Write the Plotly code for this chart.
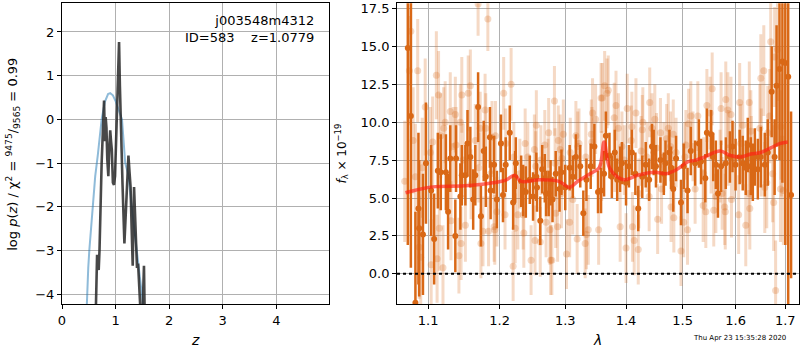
import plotly.graph_objects as go

# ---------------- left panel: redshift PDF ----------------
z_logp = [0.62, 0.63, 0.655, 0.67, 0.685, 0.70, 0.74, 0.785, 0.80, 0.815, 0.83, 0.845, 0.865, 0.885,
          0.90, 0.915, 0.93, 0.95, 0.97, 0.99, 1.02, 1.045, 1.065, 1.08, 1.10, 1.13, 1.165, 1.20,
          1.24, 1.26, 1.28, 1.30, 1.32, 1.345, 1.36, 1.38, 1.40, 1.42, 1.45, 1.49, 1.53, 1.545]
logp = [-5.0, -4.3, -3.1, -3.3, -3.45, -3.0, -1.0, 0.43, -0.5, 0.05, -0.2, -0.9, -1.3, -0.6,
        -0.25, -0.5, -0.7, -1.45, -1.5, -1.3, 0.2, 0.9, 1.77, 0.8, -0.25, -1.5, -2.84, -1.8,
        -0.83, -1.2, -1.55, -2.5, -3.35, -1.55, -2.2, -2.5, -3.4, -3.3, -4.3, -5.0, -3.35, -4.6]

z_chi = [0.44, 0.46, 0.49, 0.51, 0.55, 0.585, 0.62, 0.67, 0.74, 0.80, 0.86, 0.90, 0.95, 1.00,
         1.05, 1.12, 1.18, 1.24, 1.30, 1.36, 1.40, 1.46, 1.51, 1.54]
chi_curve = [-5.0, -4.25, -3.4, -3.0, -2.4, -2.0, -1.3, -0.8, 0.0, 0.4, 0.58, 0.6, 0.55, 0.42,
             0.25, 0.0, -1.0, -1.28, -2.0, -2.6, -3.0, -3.7, -4.2, -4.8]

# ---------------- right panel: spectrum ----------------
wave_dark = [1.073, 1.077, 1.083, 1.087, 1.088, 1.093, 1.097, 1.104, 1.108, 1.113, 1.117, 1.124,
             1.127, 1.130, 1.137, 1.138, 1.144, 1.146, 1.151, 1.154, 1.158, 1.162, 1.165, 1.169,
             1.173, 1.177, 1.180, 1.186, 1.187, 1.192, 1.196, 1.202, 1.205, 1.209, 1.215, 1.220,
             1.223, 1.224, 1.232, 1.235, 1.239, 1.245, 1.250, 1.255, 1.256, 1.261, 1.264, 1.268,
             1.270, 1.274, 1.277, 1.280, 1.285, 1.291, 1.294, 1.300, 1.307, 1.312, 1.317, 1.324,
             1.329, 1.334, 1.341, 1.347, 1.353, 1.358, 1.363, 1.366, 1.372, 1.376, 1.381, 1.385,
             1.390, 1.393, 1.400, 1.405, 1.410, 1.416, 1.421, 1.428, 1.434, 1.440, 1.445, 1.448,
             1.452, 1.460, 1.466, 1.469, 1.476, 1.479, 1.483, 1.488, 1.497, 1.502, 1.509, 1.515,
             1.523, 1.530, 1.534, 1.542, 1.545, 1.553, 1.557, 1.562, 1.566, 1.572, 1.581, 1.589,
             1.594, 1.600, 1.608, 1.614, 1.620, 1.624, 1.630, 1.634, 1.638, 1.644, 1.650, 1.658,
             1.664, 1.672, 1.678, 1.682, 1.688, 1.694, 1.700, 1.706, 1.712]
flux_dark = [14.9, 10.4, -1.9, 4.3, 3.0, 2.6, 7.3, 5.5, 2.3, 6.8, 6.7, 6.7,
             4.1, 7.6, 2.5, 7.6, 5.1, 6.5, 6.5, 8.6, 7.7, 4.9, 6.5, 11.0,
             3.8, 8.1, 6.4, 9.0, 5.5, 7.2, 4.9, 8.6, 5.2, 7.2, 9.3, 4.7,
             6.4, 7.3, 6.1, 5.5, 5.4, 6.2, 5.1, 6.4, 5.7, 3.5, 6.9, 6.3,
             5.3, 5.3, 6.0, 4.9, 6.6, 5.6, 6.7, 5.7, 7.0, 6.4, 7.7, 7.1,
             4.0, 6.2, 7.1, 8.4, 5.4, 5.5, 6.6, 9.1, 7.8, 6.4, 8.0, 6.2,
             6.9, 7.3, 6.0, 7.1, 8.0, 6.6, 4.3, 6.4, 7.2, 6.2, 8.4, 8.0,
             7.1, 7.5, 6.6, 7.3, 8.0, 7.0, 5.6, 7.6, 4.7, 7.1, 5.5, 8.1,
             7.3, 8.6, 7.4, 6.3, 9.3, 9.2, 7.7, 7.2, 5.3, 7.1, 7.3, 7.7,
             8.4, 7.2, 7.7, 7.3, 7.0, 8.5, 7.1, 6.7, 7.7, 6.9, 7.7, 7.2,
             8.0, 12.0, 7.7, 12.4, 13.5, 14.0, 13.9, 13.0, 5.2]
err_dark = [13.0, 10.0, 6.0, 5.0, 4.5, 4.0, 4.0, 3.0, 3.0, 2.5, 2.5, 2.5,
            2.5, 2.2, 2.4, 2.2, 2.2, 2.0, 2.0, 2.2, 2.0, 2.0, 2.0, 2.3,
            2.0, 2.0, 2.0, 2.0, 1.9, 1.9, 1.9, 1.9, 1.8, 1.8, 1.8, 1.8,
            1.7, 1.7, 1.7, 1.7, 1.7, 1.6, 1.6, 1.6, 1.6, 1.6, 1.6, 1.6,
            1.5, 1.5, 1.5, 1.5, 1.5, 1.5, 1.5, 1.5, 1.5, 1.4, 1.5, 1.4,
            1.5, 1.4, 1.5, 1.5, 1.4, 1.5, 1.5, 1.6, 1.5, 1.4, 1.5, 1.4,
            1.5, 1.4, 1.5, 1.4, 1.5, 1.4, 1.5, 1.4, 1.5, 1.4, 1.5, 1.5,
            1.4, 1.5, 1.4, 1.5, 1.5, 1.4, 1.5, 1.5, 1.5, 1.5, 1.5, 1.6,
            1.5, 1.6, 1.5, 1.6, 1.6, 1.6, 1.6, 1.6, 1.6, 1.7, 1.7, 1.7,
            1.7, 1.7, 1.8, 1.8, 1.8, 1.8, 1.9, 1.9, 1.9, 2.0, 2.0, 2.1,
            2.2, 3.0, 2.5, 4.0, 6.0, 8.0, 12.0, 15.0, 5.5]

wave_light = [1.069, 1.075, 1.077, 1.080, 1.083, 1.086, 1.088, 1.090, 1.092, 1.096, 1.103, 1.104,
              1.106, 1.111, 1.112, 1.114, 1.115, 1.117, 1.120, 1.121, 1.123, 1.130, 1.131, 1.134,
              1.137, 1.138, 1.142, 1.144, 1.145, 1.146, 1.148, 1.151, 1.155, 1.158, 1.159, 1.165,
              1.169, 1.170, 1.172, 1.173, 1.176, 1.179, 1.180, 1.183, 1.184, 1.187, 1.189, 1.192,
              1.193, 1.194, 1.196, 1.206, 1.208, 1.209, 1.217, 1.220, 1.221, 1.223, 1.227, 1.230,
              1.235, 1.236, 1.238, 1.242, 1.247, 1.252, 1.253, 1.254, 1.255, 1.261, 1.262, 1.268,
              1.270, 1.273, 1.274, 1.276, 1.277, 1.279, 1.283, 1.284, 1.285, 1.288, 1.289, 1.292,
              1.294, 1.295, 1.297, 1.302, 1.307, 1.308, 1.312, 1.317, 1.319, 1.320, 1.322, 1.332,
              1.333, 1.334, 1.337, 1.342, 1.343, 1.344, 1.349, 1.354, 1.358, 1.359, 1.360, 1.364,
              1.368, 1.370, 1.380, 1.381, 1.383, 1.387, 1.390, 1.393, 1.397, 1.400, 1.402, 1.409,
              1.410, 1.411, 1.414, 1.417, 1.421, 1.422, 1.426, 1.428, 1.429, 1.436, 1.440, 1.441,
              1.445, 1.450, 1.453, 1.455, 1.460, 1.462, 1.466, 1.471, 1.474, 1.478, 1.479, 1.483,
              1.484, 1.488, 1.497, 1.502, 1.504, 1.506, 1.509, 1.511, 1.515, 1.519, 1.523, 1.528,
              1.538, 1.539, 1.543, 1.545, 1.551, 1.553, 1.555, 1.558, 1.562, 1.570, 1.572, 1.574,
              1.579, 1.580, 1.581, 1.585, 1.586, 1.591, 1.592, 1.598, 1.606, 1.608, 1.610, 1.614,
              1.620, 1.626, 1.627, 1.628, 1.630, 1.631, 1.648, 1.650, 1.651, 1.656, 1.658, 1.662,
              1.664, 1.668, 1.670, 1.674, 1.676, 1.678, 1.680, 1.684, 1.690, 1.691, 1.692, 1.696]
flux_light = [6.1, 13.4, 16.0, 8.8, 6.4, 13.4, 1.75, 1.1, 7.0, 11.0, 8.0, 0.6,
              8.7, 13.1, 1.0, 11.8, 3.0, 9.1, 0.4, 9.6, 10.0, 10.7, 3.5, 8.4,
              10.5, 8.5, 1.2, 10.0, 2.0, 11.8, 7.5, 3.2, 11.9, 12.4, 5.9, 8.8,
              17.8, 7.0, 9.6, 2.0, 2.8, 10.8, 9.6, 16.8, 2.8, 6.6, 9.0, 3.1,
              2.9, 9.1, 4.1, 11.9, 3.9, 8.6, 12.5, 0.5, 7.7, 3.0, 3.9, 6.6,
              3.9, 2.7, 8.6, 7.7, 0.9, 8.2, 2.2, 7.1, 9.8, 2.1, 7.5, 8.5,
              3.4, 6.6, 9.3, 2.9, 0.9, 0.9, 11.4, 7.3, 4.0, 3.1, 8.8, 8.2,
              5.3, 7.6, 9.2, 1.3, 3.4, 8.0, 4.9, 9.1, 2.3, 8.4, 8.6, 2.0,
              7.7, 2.6, 2.9, 9.2, 8.7, 10.6, 10.2, 2.9, 11.6, 7.1, 11.6, 12.4,
              11.9, 12.1, 10.3, 7.7, 11.1, 9.6, 3.1, 8.4, 7.5, 1.7, 10.9, 8.8,
              9.7, 3.1, 2.2, 10.6, 1.6, 5.3, 8.1, 9.5, 10.0, 7.7, 5.1, 11.3,
              9.6, 10.2, 8.3, 3.6, 9.3, 5.6, 7.7, 8.9, 9.6, 8.4, 4.4, 9.2,
              3.7, 8.0, 1.5, 3.4, 7.7, 8.5, 2.9, 9.9, 10.4, 8.4, 5.6, 10.4,
              4.5, 6.6, 4.1, 11.1, 10.6, 7.7, 12.2, 4.2, 5.1, 7.1, 10.9, 5.3,
              4.4, 4.1, 11.5, 10.8, 8.3, 10.5, 4.9, 7.5, 3.9, 11.3, 8.6, 9.8,
              3.2, 5.3, 11.3, 4.3, 9.4, 7.7, 9.6, 12.9, 8.0, 13.4, 5.7, 6.0,
              9.3, 10.4, 15.3, 6.6, 4.7, 14.3, -1.1, 14.8, 5.6, 9.7, 8.6, 5.5]
err_light = [4.0, 3.6, 3.6, 3.5, 3.5, 3.4, 3.4, 3.3, 3.3, 3.2, 3.0, 3.0,
             3.0, 2.9, 2.9, 2.9, 2.8, 2.8, 2.8, 2.7, 2.7, 2.6, 2.6, 2.6,
             2.5, 2.5, 2.5, 2.5, 2.4, 2.5, 2.4, 2.4, 2.5, 2.4, 2.3, 2.4,
             2.1, 2.3, 2.4, 2.3, 2.3, 2.4, 2.3, 2.1, 2.3, 2.3, 2.4, 2.3,
             2.3, 2.3, 2.3, 2.4, 2.3, 2.3, 2.4, 2.3, 2.3, 2.3, 2.3, 2.3,
             2.3, 2.3, 2.3, 2.3, 2.3, 2.3, 2.3, 2.3, 2.3, 2.3, 2.3, 2.3,
             2.3, 2.3, 2.3, 2.3, 2.3, 2.3, 2.3, 2.3, 2.3, 2.3, 2.3, 2.3,
             2.3, 2.3, 2.3, 2.3, 2.3, 2.3, 2.3, 2.3, 2.3, 2.3, 2.3, 2.3,
             2.3, 2.3, 2.3, 2.3, 2.3, 2.3, 2.3, 2.3, 2.3, 2.3, 2.3, 2.3,
             2.3, 2.3, 2.3, 2.3, 2.3, 2.3, 2.3, 2.3, 2.3, 2.3, 2.3, 2.3,
             2.3, 2.3, 2.3, 2.3, 2.3, 2.3, 2.3, 2.3, 2.3, 2.3, 2.3, 2.3,
             2.3, 2.3, 2.3, 2.3, 2.3, 2.3, 2.3, 2.3, 2.3, 2.3, 2.3, 2.3,
             2.3, 2.3, 2.3, 2.3, 2.3, 2.3, 2.3, 2.3, 2.3, 2.3, 2.3, 2.3,
             2.4, 2.4, 2.4, 2.4, 2.4, 2.4, 2.4, 2.4, 2.4, 2.4, 2.4, 2.4,
             2.5, 2.5, 2.5, 2.5, 2.5, 2.5, 2.5, 2.5, 2.6, 2.6, 2.6, 2.6,
             2.7, 2.7, 2.7, 2.7, 2.7, 2.7, 2.9, 2.9, 2.9, 3.0, 3.0, 3.0,
             3.1, 3.1, 3.2, 3.2, 3.2, 3.3, 3.3, 3.4, 3.5, 3.5, 3.5, 3.6]

wave_model = [1.07, 1.09, 1.11, 1.15, 1.19, 1.21, 1.222, 1.232, 1.26, 1.29, 1.307, 1.32,
              1.34, 1.355, 1.363, 1.372, 1.385, 1.397, 1.42, 1.45, 1.47, 1.49, 1.51, 1.525,
              1.54, 1.57, 1.59, 1.61, 1.63, 1.65, 1.67, 1.69, 1.705]
flux_model = [5.35, 5.6, 5.75, 5.8, 6.0, 6.2, 6.5, 6.1, 6.2, 6.1, 5.7, 6.1,
              6.6, 7.0, 8.7, 7.0, 6.4, 6.2, 6.5, 6.7, 6.6, 6.9, 7.4, 7.5,
              7.7, 8.1, 7.8, 7.7, 7.9, 8.0, 8.3, 8.6, 8.7]

x_ticks_left = [0, 1, 2, 3, 4]
y_ticks_left = [-4, -3, -2, -1, 0, 1, 2]
y_tick_text_left = ["\u22124", "\u22123", "\u22122", "\u22121", "0", "1", "2"]
x_ticks_right = [1.1, 1.2, 1.3, 1.4, 1.5, 1.6, 1.7]
y_ticks_right = [0.0, 2.5, 5.0, 7.5, 10.0, 12.5, 15.0, 17.5]

title_lines = ["j003548m4312", "ID=583    z=1.0779"]
timestamp = "Thu Apr 23 15:35:28 2020"

DARK = "rgb(217,104,22)"
LIGHT = "rgba(217,104,22,0.25)"
FONT = "DejaVu Sans"

fig = go.Figure()

# left panel
fig.add_trace(go.Scatter(x=z_chi, y=chi_curve, mode="lines", xaxis="x", yaxis="y",
                         line=dict(color="rgba(31,119,180,0.5)", width=2), showlegend=False))
fig.add_trace(go.Scatter(x=z_logp, y=logp, mode="lines", xaxis="x", yaxis="y",
                         line=dict(color="rgba(40,40,40,0.85)", width=2.6), showlegend=False))

# right panel
fig.add_trace(go.Scatter(x=wave_light, y=flux_light, mode="markers", xaxis="x2", yaxis="y2",
                         marker=dict(color=LIGHT, size=7, line=dict(width=0)),
                         error_y=dict(type="data", array=err_light, color=LIGHT,
                                      thickness=3, width=0),
                         showlegend=False))
fig.add_trace(go.Scatter(x=wave_dark, y=flux_dark, mode="markers", xaxis="x2", yaxis="y2",
                         marker=dict(color=DARK, size=6, line=dict(width=0)),
                         error_y=dict(type="data", array=err_dark, color=DARK,
                                      thickness=2.5, width=0),
                         showlegend=False))
fig.add_trace(go.Scatter(x=wave_model, y=flux_model, mode="lines", xaxis="x2", yaxis="y2",
                         line=dict(color="rgba(255,30,20,0.65)", width=3.5, shape="spline"),
                         showlegend=False))

fig.add_shape(type="line", xref="x2 domain", yref="y2", x0=0, x1=1, y0=0, y1=0,
              line=dict(color="black", width=2, dash="dot"))

axis_common = dict(showline=True, linecolor="black", linewidth=1, mirror=True,
                   showgrid=True, gridcolor="#b0b0b0", gridwidth=1, zeroline=False,
                   ticks="outside", ticklen=4, tickcolor="black", automargin=False,
                   tickfont=dict(family=FONT, size=13, color="black"))

fig.update_layout(
    template="none",
    width=800, height=350,
    margin=dict(l=0, r=0, t=0, b=0, pad=0),
    paper_bgcolor="white", plot_bgcolor="white",
    font=dict(family=FONT, color="black"),
    xaxis=dict(domain=[0.0775, 0.411], range=[0, 4.98], tickvals=x_ticks_left,
               anchor="y", **axis_common),
    yaxis=dict(domain=[0.131, 0.991], range=[-4.23, 2.66], tickvals=y_ticks_left,
               ticktext=y_tick_text_left, anchor="x", **axis_common),
    xaxis2=dict(domain=[0.4963, 0.999], type="log", range=[0.0249, 0.2378],
                tickvals=x_ticks_right, ticktext=[str(v) for v in x_ticks_right],
                anchor="y2", **axis_common),
    yaxis2=dict(domain=[0.131, 0.991], range=[-2.0, 17.85], tickvals=y_ticks_right,
                ticktext=[f"{v:.1f}" for v in y_ticks_right], anchor="x2", **axis_common),
)

fig.add_annotation(xref="paper", yref="paper", x=0.395, y=0.97, xanchor="right", yanchor="top",
                   text=title_lines[0] + "<br>" + title_lines[1], showarrow=False, align="right",
                   font=dict(family=FONT, size=13, color="black"))
fig.add_annotation(xref="paper", yref="paper", x=0.244, y=0.0, xanchor="center", yanchor="bottom",
                   text="<i>z</i>", showarrow=False, font=dict(family=FONT, size=14))
fig.add_annotation(xref="paper", yref="paper", x=0.747, y=0.0, xanchor="center", yanchor="bottom",
                   text="<i>λ</i>", showarrow=False, font=dict(family=FONT, size=14))
fig.add_annotation(xref="paper", yref="paper", x=0.016, y=0.56, xanchor="center", yanchor="middle",
                   textangle=-90, showarrow=False,
                   text="log <i>p</i>(<i>z</i>) / χ<sup>2</sup> = <sup>9475</sup>/<sub>9565</sub> = 0.99",
                   font=dict(family=FONT, size=13))
fig.add_annotation(xref="paper", yref="paper", x=0.427, y=0.56, xanchor="center", yanchor="middle",
                   textangle=-90, showarrow=False,
                   text="<i>f</i><sub>λ</sub> × 10<sup>−19</sup>",
                   font=dict(family=FONT, size=12))
fig.add_annotation(xref="paper", yref="paper", x=0.985, y=0.018, xanchor="right", yanchor="bottom",
                   text=timestamp, showarrow=False, font=dict(family=FONT, size=7))

fig.write_html("out.html", config={"displayModeBar": False},
               post_script="document.body.style.margin='0';document.body.style.overflow='hidden';")
